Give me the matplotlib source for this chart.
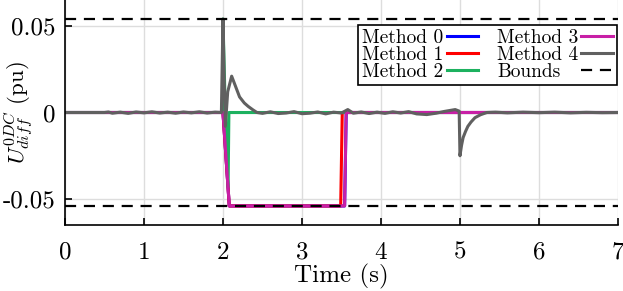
import matplotlib
matplotlib.use('Agg')
import matplotlib.pyplot as plt

plt.rcParams['font.family'] = 'serif'
plt.rcParams['font.serif'] = ['cmr10']
plt.rcParams['mathtext.fontset'] = 'cm'
plt.rcParams['axes.unicode_minus'] = False

# time (s) / value (pu) pairs
t_m0 = [0, 2.0, 2.08, 3.54, 3.56, 7]
u_m0 = [0, 0, -0.054, -0.054, 0, 0]

t_m1 = [0, 2.0, 2.08, 3.49, 3.51, 7]
u_m1 = [0, 0, -0.054, -0.054, 0, 0]

t_m2 = [0, 1.995, 2.0, 2.03, 2.065, 2.075, 7]
u_m2 = [0, 0, 0.054, 0.0, -0.043, 0, 0]

t_m3 = [0, 2.0, 2.08, 3.54, 3.56, 7]
u_m3 = [0, 0, -0.054, -0.054, 0, 0]

t_m4 = [0, 0.5, 0.55, 0.6, 0.7, 0.8, 0.9, 1.0, 1.1, 1.2, 1.3, 1.4, 1.5,
        1.6, 1.7, 1.8, 1.9, 1.98, 2.0, 2.015, 2.03, 2.06, 2.11, 2.16, 2.21,
        2.27, 2.32, 2.38, 2.43, 2.5, 2.6, 2.7, 2.8, 2.9, 3.0, 3.1, 3.2, 3.3,
        3.4, 3.5, 3.58, 3.65, 3.75, 3.85, 3.95, 4.05, 4.15, 4.25, 4.35, 4.45,
        4.58, 4.7, 4.8, 4.94, 4.99, 5.0, 5.02, 5.04, 5.07, 5.10, 5.14, 5.19,
        5.26, 5.34, 5.45, 5.6, 5.8, 6.0, 6.2, 6.4, 6.6, 6.8, 7.0]
u_m4 = [0, 0, 0.0003, -0.0004, 0.0002, -0.0005, 0.0003, -0.0002, 0.0004,
        -0.0003, 0.0002, -0.0004, 0.0003, -0.0002, 0.0004, -0.0003, 0.0002,
        0, 0.054, 0.02, -0.008, 0.012, 0.021, 0.015, 0.009, 0.0055, 0.0035,
        0.0015, 0, -0.0005, 0.0004, -0.0006, -0.0003, 0.0005, -0.0007,
        -0.0004, 0.0003, -0.0008, 0.0002, -0.0003, 0.0017, -0.0004, 0.0003,
        -0.0006, 0.0002, -0.0005, 0.0004, -0.0003, 0.0005, -0.0008, -0.0012,
        -0.0004, 0.0006, 0.0017, 0.0008, -0.025, -0.019, -0.0145, -0.011,
        -0.008, -0.0055, -0.003, -0.0013, 0, 0.0002, -0.0002, 0.0002,
        -0.0001, 0.0002, -0.0002, 0.0001, -0.0001, 0]

bound = 0.054

xticks = [0, 1, 2, 3, 4, 5, 6, 7]
yticks = [-0.05, 0, 0.05]
ytick_labels = ['-0.05', '0', '0.05']

fig = plt.figure(figsize=(6.23, 2.91), dpi=100)
ax = fig.add_axes([0.1043, 0.2268, 0.8876, 0.7732])

lw = 2.2
ax.plot(t_m0, u_m0, color='#0000ff', lw=lw, label='Method 0')
ax.plot(t_m1, u_m1, color='#ff0000', lw=lw, label='Method 1')
ax.plot(t_m2, u_m2, color='#1db15f', lw=lw, label='Method 2')
ax.plot(t_m3, u_m3, color='#c81fa6', lw=lw, label='Method 3')
ax.plot(t_m4, u_m4, color='#606060', lw=lw, label='Method 4')
ax.axhline(bound, color='k', ls=(0, (5, 3.5)), lw=1.6, label='Bounds')
ax.axhline(-bound, color='k', ls=(0, (5, 3.5)), lw=1.6)

ax.set_xlim(0, 7)
ax.set_ylim(-0.065, 0.065)
ax.set_xticks(xticks)
ax.set_xticklabels([str(v) for v in xticks])
ax.set_yticks(yticks)
ax.set_yticklabels(ytick_labels)
ax.tick_params(direction='in', labelsize=18, length=5, width=1.2)
ax.tick_params(axis='y', pad=7)
ax.tick_params(axis='x', pad=12)
ax.grid(True, color='#dddddd', lw=1)
ax.set_axisbelow(True)
for s in ['top', 'right']:
    ax.spines[s].set_visible(False)
for s in ['left', 'bottom']:
    ax.spines[s].set_linewidth(1.2)

ax.set_xlabel('Time (s)', fontsize=18)
ax.xaxis.set_label_coords(0.5, -0.172)
ax.set_ylabel(r'$U^{0DC}_{diff}$ (pu)', fontsize=16.5)
ax.yaxis.set_label_coords(-0.052, 0.5)

leg = ax.legend(ncol=2, loc='upper right', bbox_to_anchor=(0.998, 0.889),
                borderaxespad=0, markerfirst=False, fontsize=14,
                handlelength=1.6, columnspacing=1.0, labelspacing=-0.06,
                handletextpad=0.15, borderpad=0.22, fancybox=False,
                framealpha=1, edgecolor='k')
leg.get_frame().set_linewidth(1.2)

# left-align legend text, keep handles at the right of each column
fig.canvas.draw()
renderer = fig.canvas.get_renderer()
for col in leg._legend_handle_box.get_children():
    rows = col.get_children()
    w = max(r.get_bbox(renderer).width for r in rows)
    for r in rows:
        r.mode = 'expand'
        r.set_width(w)

fig.savefig('out.png', dpi=100)
